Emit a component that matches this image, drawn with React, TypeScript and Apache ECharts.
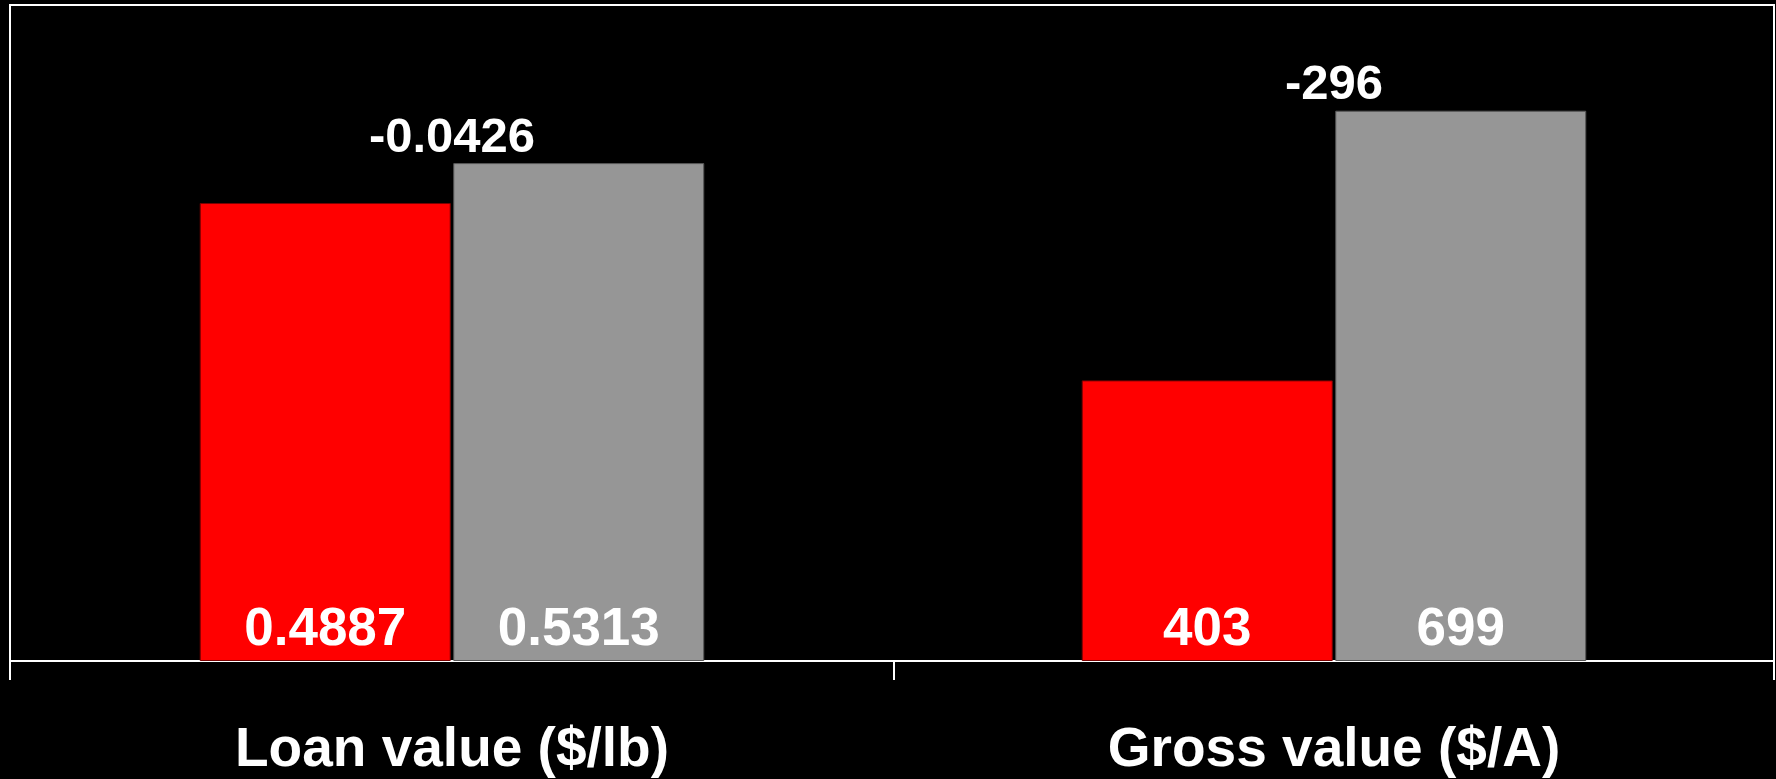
import React, { useEffect, useRef } from "react";
import * as echarts from "echarts";

const categories = ["Loan value ($/lb)", "Gross value ($/A)"];
const redValues = [0.4887, 403];
const grayValues = [0.5313, 699];
const diffLabels = ["-0.0426", "-296"];
const axisMin = [0, 95];
const axisMax = [0.7, 815];

const FONT = "'Liberation Sans', Arial, sans-serif";

export default function App() {
  const ref = useRef<HTMLDivElement>(null);

  useEffect(() => {
    document.body.style.margin = "0";
    document.body.style.background = "#000";
    const chart = echarts.init(ref.current!, null, { renderer: "svg" });

    const grids = [
      { left: 10, top: 5, width: 884, height: 656 },
      { left: 894, top: 5, width: 880, height: 656 },
      { left: 10, top: 5, width: 1764, height: 656, show: true, borderColor: "#fff", borderWidth: 2, backgroundColor: "transparent" },
    ];

    const xAxes: any[] = categories.map((c, i) => ({
      type: "category",
      gridIndex: i,
      data: [c],
      boundaryGap: true,
      axisLine: { show: true, lineStyle: { color: "#fff", width: 2 } },
      axisTick: { show: true, length: 19, lineStyle: { color: "#fff", width: 2 } },
      axisLabel: { color: "#fff", fontSize: 55, fontWeight: "bold", fontFamily: FONT, margin: 58 },
      splitLine: { show: false },
    }));
    xAxes.push({ type: "value", gridIndex: 2, show: false });

    const yAxes: any[] = categories.map((_, i) => ({
      type: "value",
      gridIndex: i,
      min: axisMin[i],
      max: axisMax[i],
      startValue: axisMin[i],
      show: false,
      splitLine: { show: false },
    }));
    yAxes.push({ type: "value", gridIndex: 2, show: false });

    const valueLabel = {
      show: true,
      position: "insideBottom",
      distance: 8,
      color: "#fff",
      fontSize: 53,
      fontWeight: "bold",
      fontFamily: FONT,
      formatter: (p: any) => String(p.value),
    };

    const series: any[] = [];
    categories.forEach((_, i) => {
      series.push({
        type: "bar",
        name: "red" + i,
        xAxisIndex: i,
        yAxisIndex: i,
        data: [redValues[i]],
        barWidth: 251,
        barGap: "1%",
        itemStyle: { color: "#ff0000", borderColor: "#7a0000", borderWidth: 1 },
        label: valueLabel,
      });
      series.push({
        type: "bar",
        name: "gray" + i,
        xAxisIndex: i,
        yAxisIndex: i,
        data: [grayValues[i]],
        barWidth: 251,
        barGap: "1%",
        itemStyle: { color: "#969696", borderColor: "#555", borderWidth: 1 },
        label: valueLabel,
      });
      series.push({
        type: "scatter",
        name: "diff" + i,
        xAxisIndex: i,
        yAxisIndex: i,
        data: [Math.max(redValues[i], grayValues[i])],
        symbolSize: 0,
        itemStyle: { opacity: 1 },
        label: {
          show: true,
          position: "top",
          distance: 4,
          color: "#fff",
          opacity: 1,
          fontSize: 49,
          fontWeight: "bold",
          fontFamily: FONT,
          formatter: () => diffLabels[i],
        },
      });
    });

    chart.setOption({
      animation: false,
      backgroundColor: "#000",
      grid: grids,
      xAxis: xAxes,
      yAxis: yAxes,
      series,
    });

    return () => chart.dispose();
  }, []);

  return (
    <div
      ref={ref}
      style={{ position: "fixed", left: 0, top: 0, width: 1776, height: 779, background: "#000" }}
    />
  );
}
